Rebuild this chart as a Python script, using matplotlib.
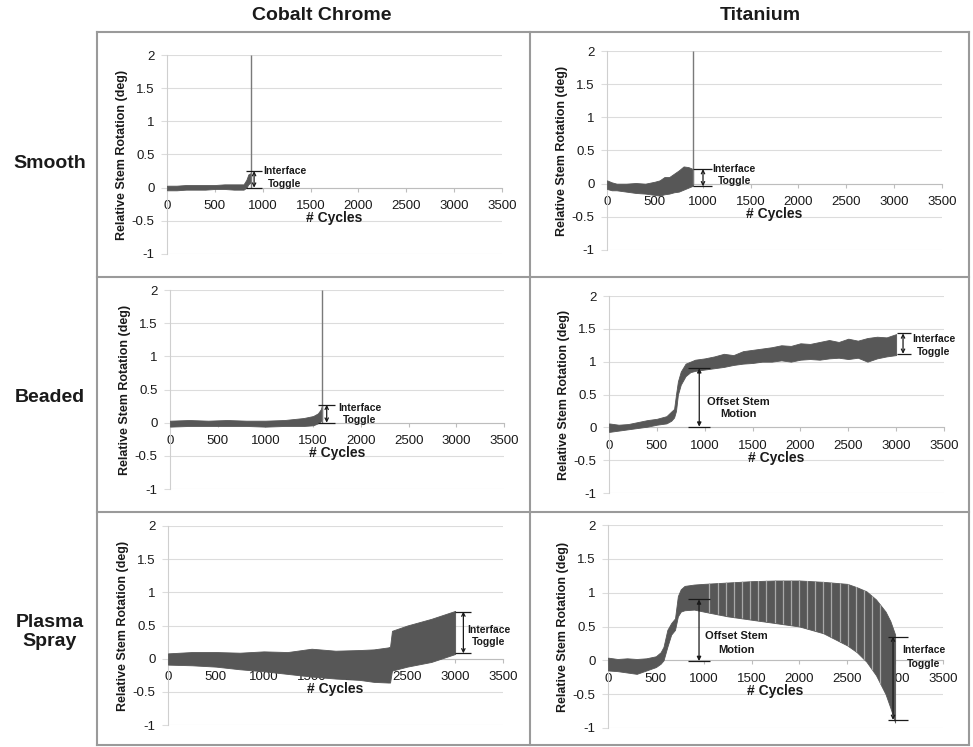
import matplotlib
matplotlib.use("Agg")
import matplotlib.pyplot as plt
from matplotlib.lines import Line2D

plt.rcParams['font.family'] = ['Liberation Sans', 'DejaVu Sans']

W, H = 973, 747

# ---- data (lower / upper envelope of the oscillating signal) ----
cc_smooth_x = [0, 100, 200, 300, 400, 500, 600, 700, 800, 830, 850, 875]
cc_smooth_lo = [-0.04, -0.04, -0.03, -0.03, -0.03, -0.02, -0.02, -0.03, -0.03, 0.0, 0.05, 0.08]
cc_smooth_hi = [0.03, 0.03, 0.04, 0.04, 0.04, 0.04, 0.05, 0.05, 0.05, 0.12, 0.2, 0.22]

ti_smooth_x = [0, 50, 100, 200, 300, 400, 500, 550, 600, 650, 700, 750, 800, 850, 900]
ti_smooth_lo = [-0.08, -0.1, -0.1, -0.12, -0.14, -0.15, -0.17, -0.18, -0.16, -0.15, -0.13, -0.12, -0.09, -0.06, -0.03]
ti_smooth_hi = [0.05, 0.02, 0.0, 0.0, 0.01, 0.0, 0.03, 0.05, 0.1, 0.1, 0.15, 0.2, 0.26, 0.25, 0.22]

cc_beaded_x = [0, 200, 400, 600, 800, 1000, 1200, 1400, 1500, 1550, 1580, 1595]
cc_beaded_lo = [-0.06, -0.05, -0.05, -0.05, -0.05, -0.06, -0.05, -0.05, -0.04, -0.01, 0.02, 0.05]
cc_beaded_hi = [0.03, 0.04, 0.03, 0.04, 0.03, 0.03, 0.04, 0.07, 0.1, 0.14, 0.2, 0.27]

ti_beaded_x = [0, 100, 200, 300, 400, 500, 600, 650, 680, 700, 720, 750, 800, 850, 900, 1000,
               1100, 1200, 1300, 1400, 1500, 1600, 1700, 1800, 1900, 2000, 2100, 2200, 2300,
               2400, 2500, 2600, 2700, 2800, 2900, 3000]
ti_beaded_lo = [-0.07, -0.05, -0.03, -0.01, 0.01, 0.04, 0.06, 0.1, 0.15, 0.25, 0.5, 0.65, 0.78,
                0.84, 0.86, 0.88, 0.9, 0.92, 0.95, 0.97, 0.98, 1.0, 1.0, 1.02, 1.0, 1.03, 1.04,
                1.03, 1.05, 1.06, 1.04, 1.06, 1.0, 1.05, 1.08, 1.1]
ti_beaded_hi = [0.06, 0.04, 0.05, 0.08, 0.11, 0.13, 0.17, 0.24, 0.28, 0.5, 0.7, 0.85, 0.97, 1.0,
                1.03, 1.05, 1.08, 1.12, 1.1, 1.16, 1.18, 1.2, 1.22, 1.25, 1.24, 1.28, 1.27, 1.3,
                1.33, 1.3, 1.35, 1.32, 1.36, 1.38, 1.37, 1.42]

cc_plasma_x = [0, 250, 500, 750, 1000, 1250, 1500, 1750, 2000, 2150, 2300, 2320, 2340, 2500, 2750, 3000]
cc_plasma_lo = [-0.09, -0.1, -0.12, -0.16, -0.19, -0.23, -0.27, -0.3, -0.32, -0.35, -0.36, -0.36,
                -0.18, -0.12, -0.05, 0.07]
cc_plasma_hi = [0.08, 0.1, 0.1, 0.09, 0.11, 0.1, 0.15, 0.12, 0.13, 0.14, 0.17, 0.18, 0.42, 0.5, 0.6, 0.72]

ti_plasma_x = [0, 100, 200, 300, 400, 500, 550, 580, 620, 660, 700, 730, 760, 800, 900, 1000,
               1250, 1500, 1750, 2000, 2250, 2500, 2600, 2700, 2800, 2900, 2950, 3000]
ti_plasma_lo = [-0.15, -0.16, -0.18, -0.2, -0.15, -0.1, -0.05, 0.0, 0.2, 0.38, 0.45, 0.65, 0.72,
                0.74, 0.75, 0.72, 0.65, 0.6, 0.55, 0.5, 0.4, 0.22, 0.12, -0.02, -0.22, -0.5, -0.7, -0.92]
ti_plasma_hi = [0.04, 0.02, 0.03, 0.02, 0.03, 0.06, 0.12, 0.2, 0.45, 0.55, 0.62, 0.95, 1.05, 1.1,
                1.12, 1.13, 1.15, 1.17, 1.18, 1.18, 1.16, 1.13, 1.08, 1.02, 0.9, 0.72, 0.58, 0.38]
# lighter gaps between the loading blocks in the titanium plasma spray trace
ti_plasma_gaps = [1060, 1145, 1230, 1315, 1400, 1485, 1570, 1655, 1740, 1825, 1910, 1995,
                  2080, 2165, 2250, 2335, 2420, 2505, 2590, 2675, 2760, 2845]

# spikes at the end of the smooth / cobalt beaded runs
spike_x = {"cc_smooth": 875, "ti_smooth": 902, "cc_beaded": 1593}

col_titles = ["Cobalt Chrome", "Titanium"]
row_titles = ["Smooth", "Beaded", "Plasma\nSpray"]
x_ticks = [0, 500, 1000, 1500, 2000, 2500, 3000, 3500]
y_ticks = [-1, -0.5, 0, 0.5, 1, 1.5, 2]
y_ticklabels = ["-1", "-0.5", "0", "0.5", "1", "1.5", "2"]

# panel -> (x, lo, hi, pixel rect [left, top, right, bottom])
panels = {
    "cc_smooth": (cc_smooth_x, cc_smooth_lo, cc_smooth_hi, (167, 55, 502, 254)),
    "ti_smooth": (ti_smooth_x, ti_smooth_lo, ti_smooth_hi, (607, 51, 942, 250)),
    "cc_beaded": (cc_beaded_x, cc_beaded_lo, cc_beaded_hi, (170, 290, 504, 489)),
    "ti_beaded": (ti_beaded_x, ti_beaded_lo, ti_beaded_hi, (609, 296, 944, 493)),
    "cc_plasma": (cc_plasma_x, cc_plasma_lo, cc_plasma_hi, (168, 526, 503, 725)),
    "ti_plasma": (ti_plasma_x, ti_plasma_lo, ti_plasma_hi, (608, 525, 943, 728)),
}

# interface toggle brackets: x, bottom, top, tick from, tick to, text x, text y (Interface), text y (Toggle)
toggles = {
    "cc_smooth": (910, 0.0, 0.25, 822, 992, 1230, 0.25, 0.05),
    "ti_smooth": (1003, -0.04, 0.22, 900, 1100, 1330, 0.22, 0.035),
    "cc_beaded": (1642, 0.0, 0.27, 1550, 1730, 1990, 0.225, 0.04),
    "ti_beaded": (3072, 1.12, 1.43, 3005, 3150, 3390, 1.34, 1.15),
    "cc_plasma": (3086, 0.08, 0.71, 3000, 3170, 3350, 0.435, 0.245),
    "ti_plasma": (2978, -0.88, 0.35, 2925, 3135, 3300, 0.146, -0.05),
}
# offset stem motion arrows: x, bottom, top, tick from, tick to, text x, y (Offset Stem), y (Motion)
offsets = {
    "ti_beaded": (943, 0.01, 0.9, 825, 1055, 1350, 0.39, 0.2),
    "ti_plasma": (951, -0.01, 0.9, 836, 1062, 1340, 0.366, 0.16),
}

band_color = "#575757"
grid_color = "#dcdcdc"
ink = "#1a1a1a"

fig = plt.figure(figsize=(W / 100, H / 100), dpi=100)


def bracket(ax, x, y0, y1, t0, t1, style):
    ax.hlines([y0, y1], t0, t1, color=ink, lw=0.9, zorder=5)
    ax.annotate("", xy=(x, y1), xytext=(x, y0),
                arrowprops=dict(arrowstyle=style, color=ink, lw=0.9,
                                shrinkA=0, shrinkB=0, mutation_scale=6), zorder=5)


for key, (xs, lo, hi, (l, t, r, b)) in panels.items():
    ax = fig.add_axes([l / W, 1 - b / H, (r - l) / W, (b - t) / H])
    ax.set_xlim(0, 3500)
    ax.set_ylim(-1, 2)
    ax.set_facecolor("none")

    band = ax.fill_between(xs, lo, hi, color=band_color, lw=0.6, edgecolor=band_color, zorder=3)
    if key in spike_x:
        ax.vlines(spike_x[key], 0, 2, color="#7a7a7a", lw=1.0, zorder=3)
    if key == "ti_plasma":
        gaps = ax.vlines(ti_plasma_gaps, -1, 2, color="#a8a8a8", lw=0.9, zorder=4)
        gaps.set_clip_path(band.get_paths()[0], ax.transData)

    # axes styled like the spreadsheet chart
    for s in ["top", "right"]:
        ax.spines[s].set_visible(False)
    ax.spines["bottom"].set_position(("data", 0))
    ax.spines["bottom"].set_color("#bdbdbd")
    ax.spines["left"].set_color("#cfcfcf")
    ax.spines["bottom"].set_zorder(1)
    ax.set_yticks(y_ticks)
    ax.set_yticklabels(y_ticklabels)
    ax.set_xticks(x_ticks)
    ax.yaxis.grid(True, color=grid_color, lw=0.8)
    ax.set_axisbelow(True)
    ax.tick_params(axis="y", length=4, color=grid_color, labelsize=9.5, pad=5, labelcolor=ink)
    ax.tick_params(axis="x", length=3, color="#bdbdbd", labelsize=9.5, pad=6, labelcolor=ink)

    ax.text(1750, -0.46, "# Cycles", ha="center", va="center", fontsize=10,
            fontweight="bold", color=ink, zorder=6)
    ax.text(-45 / 335, 0.5, "Relative Stem Rotation (deg)", transform=ax.transAxes,
            rotation=90, ha="center", va="center", fontsize=9, fontweight="bold", color=ink)

    x, y0, y1, t0, t1, tx, ty1, ty2 = toggles[key]
    bracket(ax, x, y0, y1, t0, t1, "<->")
    ax.text(tx, ty1, "Interface", ha="center", va="center", fontsize=7.5,
            fontweight="bold", color=ink, clip_on=False)
    ax.text(tx, ty2, "Toggle", ha="center", va="center", fontsize=7.5,
            fontweight="bold", color=ink, clip_on=False)

    if key in offsets:
        x, y0, y1, t0, t1, tx, ty1, ty2 = offsets[key]
        bracket(ax, x, y0, y1, t0, t1, "<|-|>")
        ax.text(tx, ty1, "Offset Stem", ha="center", va="center", fontsize=8,
                fontweight="bold", color=ink)
        ax.text(tx, ty2, "Motion", ha="center", va="center", fontsize=8,
                fontweight="bold", color=ink)

# column / row titles
for txt, cx in zip(col_titles, [322, 760]):
    fig.text(cx / W, 1 - 15 / H, txt, ha="center", va="center", fontsize=14, fontweight="bold", color=ink)
for txt, cy in zip(row_titles, [164, 398, 632]):
    fig.text(50 / W, 1 - cy / H, txt, ha="center", va="center", fontsize=14,
             fontweight="bold", color=ink, linespacing=1.1)

# table frame
frame = "#9a9a9a"
for xp in [97, 529.5, 969]:
    fig.add_artist(Line2D([xp / W, xp / W], [1 - 32 / H, 1 - 745 / H], color=frame, lw=1.5))
for yp in [32, 277, 512, 745]:
    fig.add_artist(Line2D([97 / W, 969 / W], [1 - yp / H, 1 - yp / H], color=frame, lw=1.5))

fig.savefig("out.png", dpi=100)
